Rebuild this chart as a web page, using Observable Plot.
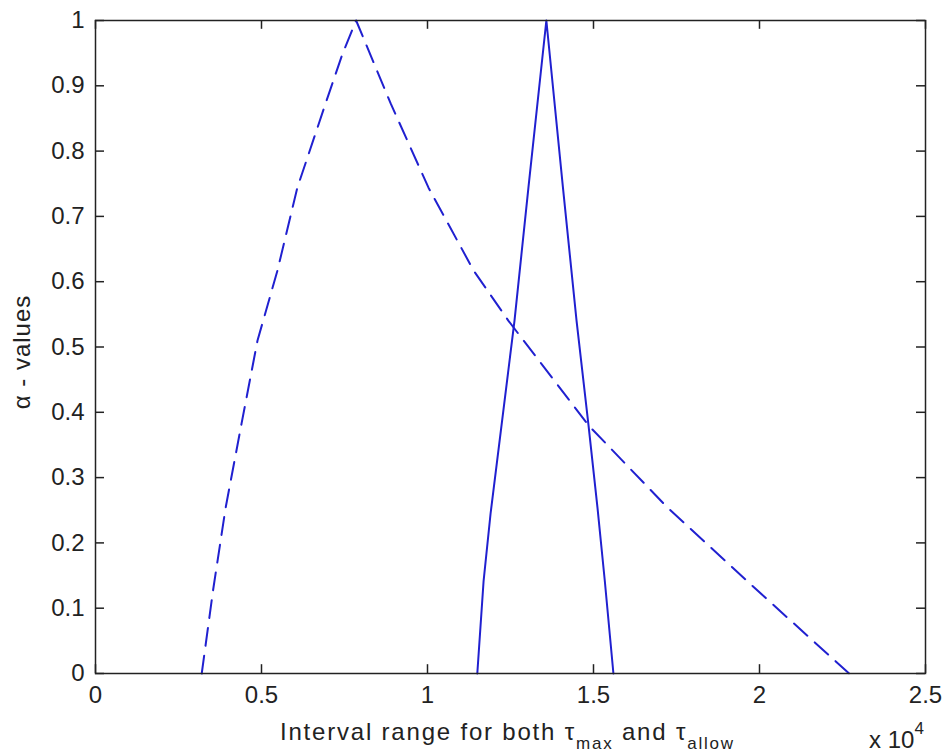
<!DOCTYPE html>
<html>
<head>
<meta charset="utf-8">
<script src="https://cdn.jsdelivr.net/npm/d3@7"></script>
<script src="https://cdn.jsdelivr.net/npm/@observablehq/plot@0.6"></script>
<style>
  html, body { margin: 0; padding: 0; background: #fff; }
</style>
</head>
<body>
<div id="chart"></div>
<script>
// Dashed curve (tau_max membership)
const dashedX = [3200, 3540, 3920, 4400, 4880, 5480, 6080, 6930, 7440, 7850, 8890, 10030, 11390, 12440, 14850, 17230, 19940, 22700];
const dashedY = [0, 0.127, 0.254, 0.383, 0.51, 0.617, 0.744, 0.873, 0.949, 1, 0.873, 0.744, 0.617, 0.54, 0.38, 0.254, 0.127, 0];
// Solid curve (tau_allow membership)
const solidX = [11500, 11690, 11900, 12620, 13040, 13580, 14080, 14490, 14850, 15120, 15340, 15600];
const solidY = [0, 0.142, 0.245, 0.54, 0.744, 1, 0.744, 0.54, 0.38, 0.254, 0.142, 0];

const xTicks = [0, 5000, 10000, 15000, 20000, 25000];
const xTickLabels = ["0", "0.5", "1", "1.5", "2", "2.5"];
const yTicks = [0, 0.1, 0.2, 0.3, 0.4, 0.5, 0.6, 0.7, 0.8, 0.9, 1];
const yTickLabels = ["0", "0.1", "0.2", "0.3", "0.4", "0.5", "0.6", "0.7", "0.8", "0.9", "1"];

const lineColor = "#2020d0";
const font = "'Liberation Sans', Arial, sans-serif";

const dashed = dashedX.map((x, i) => ({x, y: dashedY[i]}));
const solid = solidX.map((x, i) => ({x, y: solidY[i]}));

const svg = Plot.plot({
  width: 944,
  height: 756,
  marginTop: 20,
  marginLeft: 95,
  marginRight: 19,
  marginBottom: 83,
  style: {fontFamily: font, background: "#fff", color: "#222"},
  x: {domain: [0, 25000]},
  y: {domain: [0, 1]},
  marks: [
    Plot.line(dashed, {x: "x", y: "y", stroke: lineColor, strokeWidth: 2, strokeDasharray: "18,10"}),
    Plot.line(solid, {x: "x", y: "y", stroke: lineColor, strokeWidth: 2}),
    Plot.ruleX(xTicks, {x: d => d, y1: 0, y2: 0.0135, stroke: "#222", strokeWidth: 1.5}),
    Plot.ruleX(xTicks, {x: d => d, y1: 1, y2: 1 - 0.0135, stroke: "#222", strokeWidth: 1.5}),
    Plot.ruleY(yTicks, {y: d => d, x1: 0, x2: 271, stroke: "#222", strokeWidth: 1.5}),
    Plot.ruleY(yTicks, {y: d => d, x1: 25000, x2: 25000 - 271, stroke: "#222", strokeWidth: 1.5}),
    Plot.frame({stroke: "#222", strokeWidth: 1.5}),
    Plot.axisX({ticks: xTicks, tickFormat: (d, i) => xTickLabels[i], tickSize: 0, tickPadding: 12, fontSize: 24, label: null}),
    Plot.axisY({ticks: yTicks, tickFormat: (d, i) => yTickLabels[i], tickSize: 0, tickPadding: 11, fontSize: 24, label: null})
  ]
});

const s = d3.select(svg);
// x-axis label with subscripts
const xl = s.append("text")
  .attr("x", 280).attr("y", 740)
  .attr("text-anchor", "start")
  .attr("font-size", 24).attr("fill", "#222")
  .attr("letter-spacing", "1.8px")
  .attr("font-family", font);
xl.append("tspan").text("Interval range for both \u03C4");
xl.append("tspan").attr("dy", 9).attr("font-size", 17).text("max");
xl.append("tspan").attr("dy", -9).attr("font-size", 24).text(" and \u03C4");
xl.append("tspan").attr("dy", 9).attr("font-size", 17).text("allow");

// exponent label
const ex = s.append("text")
  .attr("x", 869).attr("y", 748)
  .attr("text-anchor", "start")
  .attr("font-size", 24).attr("fill", "#222")
  .attr("font-family", font);
ex.append("tspan").text("x 10");
ex.append("tspan").attr("dy", -14).attr("font-size", 17).text("4");

// y-axis label
s.append("text")
  .attr("transform", "translate(30,352) rotate(-90)")
  .attr("text-anchor", "middle")
  .attr("font-size", 24).attr("fill", "#222")
  .attr("letter-spacing", "1px")
  .attr("font-family", font)
  .text("\u03B1 - values");

document.getElementById("chart").appendChild(svg);
</script>
</body>
</html>
